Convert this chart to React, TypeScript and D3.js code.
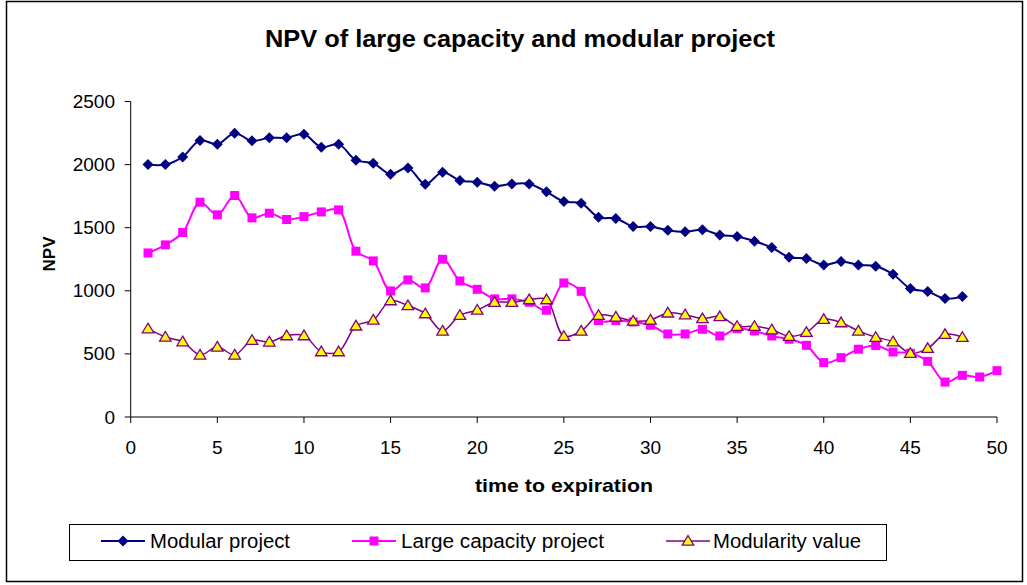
import React from "react";
import * as d3 from "d3";

const modular = [2000, 2000, 2061, 2191, 2162, 2249, 2188, 2212, 2212, 2241, 2138, 2162, 2035, 2011, 1924, 1974, 1845, 1940, 1874, 1861, 1829, 1847, 1847, 1784, 1707, 1694, 1583, 1573, 1509, 1509, 1480, 1468, 1483, 1443, 1430, 1393, 1343, 1266, 1255, 1205, 1232, 1205, 1195, 1131, 1018, 994, 938, 954];
const largeCap = [1300, 1364, 1462, 1702, 1602, 1755, 1578, 1615, 1565, 1588, 1625, 1641, 1314, 1237, 999, 1086, 1023, 1250, 1078, 1012, 936, 936, 909, 846, 1062, 996, 764, 764, 753, 727, 658, 658, 695, 642, 700, 682, 642, 616, 568, 431, 470, 537, 566, 515, 505, 441, 277, 330, 317, 367];
const modularity = [700, 634, 597, 492, 555, 492, 608, 595, 645, 645, 518, 518, 722, 769, 922, 883, 819, 682, 806, 848, 909, 909, 930, 930, 640, 682, 806, 793, 761, 769, 825, 811, 780, 796, 719, 719, 692, 640, 671, 774, 748, 682, 632, 597, 505, 544, 655, 632];
const xTicks = [0, 5, 10, 15, 20, 25, 30, 35, 40, 45, 50];
const yTicks = [0, 500, 1000, 1500, 2000, 2500];
const seriesNames = ["Modular project", "Large capacity project", "Modularity value"];

const FONT = "'Liberation Sans', Arial, sans-serif";

export default function App() {
  const x = d3.scaleLinear().domain([0, 50]).range([130.7, 997]);
  const y = d3.scaleLinear().domain([0, 2500]).range([417, 101.5]);
  const line = d3
    .line<number>()
    .x((_, i) => x(i + 1))
    .y((d) => y(d))
    .curve(d3.curveCatmullRom.alpha(0.5));

  const diamond = (cx: number, cy: number, r: number) =>
    `M${cx},${cy - r}L${cx + r},${cy}L${cx},${cy + r}L${cx - r},${cy}Z`;
  const tri = (cx: number, cy: number, r: number) =>
    `M${cx},${cy - r}L${cx + r * 1.05},${cy + r * 0.75}L${cx - r * 1.05},${cy + r * 0.75}Z`;

  const legendItems = [
    { lx: 101, tx: 150, w: 140 },
    { lx: 352, tx: 401, w: 203 },
    { lx: 666, tx: 713, w: 148 },
  ];
  const legendY = 541;

  return (
    <svg width={1027} height={585} style={{ position: "absolute", left: 0, top: 0, fontFamily: FONT }}>
      <rect x={0} y={0} width={1027} height={585} fill="#fff" />
      <rect x={6.5} y={1.5} width={1016} height={580} fill="none" stroke="#000" strokeWidth={1.5} />
      <text x={265} y={47} fontSize={23} fontWeight="bold" textLength={510} lengthAdjust="spacingAndGlyphs">
        NPV of large capacity and modular project
      </text>

      {/* axes */}
      <line x1={x(0)} x2={x(0)} y1={y(2500)} y2={y(0)} stroke="#000" strokeWidth={1} />
      <line x1={x(0)} x2={x(50)} y1={y(0)} y2={y(0)} stroke="#000" strokeWidth={1} />
      {yTicks.map((t) => (
        <g key={"y" + t}>
          <line x1={x(0) - 6} x2={x(0)} y1={y(t)} y2={y(t)} stroke="#000" />
          <text x={115} y={y(t) + 6.5} textAnchor="end" fontSize={19}>
            {t}
          </text>
        </g>
      ))}
      {xTicks.map((t) => (
        <g key={"x" + t}>
          <line x1={x(t)} x2={x(t)} y1={y(0)} y2={y(0) + 6} stroke="#000" />
          <text x={x(t)} y={453.5} textAnchor="middle" fontSize={19}>
            {t}
          </text>
        </g>
      ))}
      <text x={475} y={491.5} fontSize={19} fontWeight="bold" textLength={178} lengthAdjust="spacingAndGlyphs">
        time to expiration
      </text>
      <text transform="translate(55,254) rotate(-90)" textAnchor="middle" fontSize={17} fontWeight="bold">
        NPV
      </text>

      {/* series */}
      <path d={line(modular) || ""} fill="none" stroke="#000080" strokeWidth={2} />
      <path d={line(largeCap) || ""} fill="none" stroke="#FF00FF" strokeWidth={2} />
      <path d={line(modularity) || ""} fill="none" stroke="#800080" strokeWidth={1.5} />
      {modular.map((v, i) => (
        <path key={"m" + i} d={diamond(x(i + 1), y(v), 5.5)} fill="#000080" />
      ))}
      {largeCap.map((v, i) => (
        <rect key={"l" + i} x={x(i + 1) - 4.5} y={y(v) - 4.5} width={9} height={9} fill="#FF00FF" />
      ))}
      {modularity.map((v, i) => (
        <path key={"v" + i} d={tri(x(i + 1), y(v), 5.5)} fill="#FFFF00" stroke="#800080" strokeWidth={1.3} />
      ))}

      {/* legend */}
      <rect x={69.5} y={524.5} width={817} height={36} fill="#fff" stroke="#000" strokeWidth={1} />
      {legendItems.map((it, i) => {
        const cx = it.lx + 22;
        return (
          <g key={"lg" + i}>
            <line
              x1={it.lx}
              x2={it.lx + 44}
              y1={legendY}
              y2={legendY}
              stroke={["#000080", "#FF00FF", "#800080"][i]}
              strokeWidth={i === 2 ? 1.5 : 2}
            />
            {i === 0 && <path d={diamond(cx, legendY, 5.5)} fill="#000080" />}
            {i === 1 && <rect x={cx - 4.5} y={legendY - 4.5} width={9} height={9} fill="#FF00FF" />}
            {i === 2 && <path d={tri(cx, legendY, 5.5)} fill="#FFFF00" stroke="#800080" strokeWidth={1.3} />}
            <text x={it.tx} y={legendY + 7} fontSize={20} textLength={it.w} lengthAdjust="spacingAndGlyphs">
              {seriesNames[i]}
            </text>
          </g>
        );
      })}
    </svg>
  );
}
